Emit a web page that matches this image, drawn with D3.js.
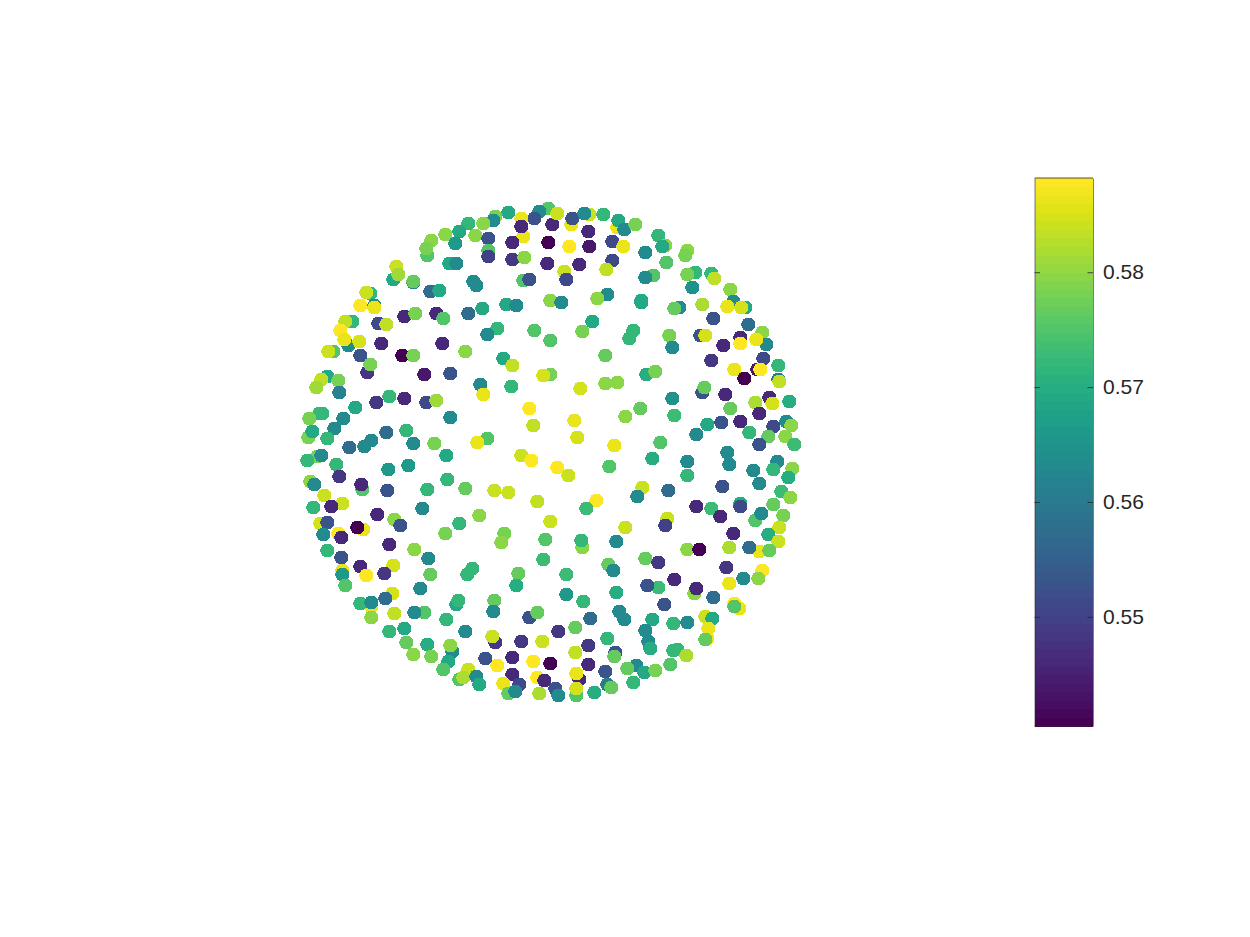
<!DOCTYPE html>
<html>
<head>
<meta charset="utf-8">
<script src="https://cdnjs.cloudflare.com/ajax/libs/d3/7.8.5/d3.min.js"></script>
<style>
html,body{margin:0;padding:0;background:#fff;}
svg{display:block;}
</style>
</head>
<body>
<svg id="chart" width="1250" height="937"></svg>
<script>
const colorMin = 0.5405, colorMax = 0.5882, colorLevels = 64;
const colorTicks = [0.55, 0.56, 0.57, 0.58];

const xA = [
-2,-11,-16,-29,-27,-29,-42,-55,-57,-67,
-82,-91,-105,-75,-62,-38,-2,2,-95,-119,
-123,-124,-62,-62,-38,-26,-3,-101,-94,-154,
-157,-152,-27,-21,-137,-137,-77,-74,-120,-111,
-180,-184,0,-176,-190,-176,-44,-34,-68,-82,
-146,-135,-114,-107,-198,-205,-172,-164,-53,-63,
-16,-202,-210,-206,-191,-169,-108,0,-217,-222,
-85,-190,-148,-137,-47,-38,-183,-180,-126,-100,
0,-7,-223,-229,-212,-70,-39,-234,-211,-67,
-161,-146,-174,-124,-114,-195,-21,-231,-228,-241,
-207,-100,-17,-216,-144,-164,-242,-238,-223,-179,
-63,-73,-137,-116,-201,-186];
const yA = [
245,242,235,235,217,227,241,237,233,230,
230,222,219,218,215,211,211,229,210,213,
198,205,203,197,194,196,190,190,190,187,
174,179,173,174,171,172,172,168,162,163,
160,161,153,148,148,146,149,148,145,140,
137,140,140,135,132,132,130,129,125,119,
123,108,123,114,112,110,110,113,102,102,
102,98,98,98,95,88,81,89,79,80,
79,78,77,74,73,69,67,66,61,59,
57,55,51,51,53,46,45,40,40,35,
35,36,28,25,23,21,16,22,15,13,
15,11,10,10,6,7];
const vA = [
.575,.563,.553,.586,.586,.546,.569,.578,.563,.58,
.572,.569,.58,.58,.553,.546,.5405,.546,.566,.58,
.575,.578,.575,.55,.548,.58,.546,.569,.563,.584,
.569,.581,.575,.553,.562,.577,.563,.563,.557,.569,
.572,.584,.58,.563,.588,.586,.569,.563,.569,.557,
.546,.578,.546,.575,.572,.583,.551,.583,.572,.563,
.575,.563,.588,.586,.585,.546,.546,.575,.575,.584,
.58,.553,.5405,.578,.569,.583,.548,.578,.544,.553,
.578,.585,.569,.583,.578,.563,.572,.581,.562,.586,
.572,.546,.548,.551,.581,.569,.588,.572,.572,.578,
.563,.563,.583,.563,.572,.557,.578,.569,.572,.563,
.575,.586,.563,.578,.557,.563];

const xB = [
7,21,22,39,34,53,38,67,68,74,
85,108,19,39,62,73,95,115,112,137,
135,116,29,62,56,14,16,103,95,145,
137,161,164,142,180,57,47,11,91,91,
129,124,152,183,195,177,191,163,42,198,
32,83,79,150,155,119,122,212,216,190,
190,206,173,55,213,161,228,207,210,184,
96,105,194,228,229,55,67,30,152,154,
175,122,219,222,205,239,209,180,90,75,
124,24,157,171,190,236,223,241,146,199,
218,235,27,209,244,110,64];
const yB = [
240,229,235,239,240,239,222,226,233,224,
229,218,207,207,212,207,201,208,207,203,
198,191,189,193,184,182,174,178,176,181,
179,180,175,166,164,159,155,151,153,151,
146,145,149,152,146,147,146,135,132,129,
122,123,115,118,118,118,106,121,109,116,
110,114,108,98,95,93,88,84,84,84,
79,82,75,74,72,70,71,65,61,66,
59,55,56,50,51,52,40,45,45,37,
38,33,29,31,32,32,27,28,19,21,
17,17,16,9,9,11,8];
const vB = [
.584,.586,.553,.584,.563,.572,.546,.586,.569,.563,
.578,.572,.588,.544,.551,.586,.563,.58,.569,.58,
.578,.575,.546,.551,.583,.584,.551,.575,.563,.572,
.578,.572,.583,.565,.58,.563,.58,.563,.569,.569,
.563,.577,.582,.563,.569,.586,.585,.553,.569,.557,
.578,.572,.572,.553,.585,.578,.563,.58,.563,.546,
.588,.586,.546,.577,.551,.548,.572,.544,.588,.586,
.57,.578,.5405,.56,.583,.58,.58,.585,.553,.577,
.546,.565,.546,.585,.582,.57,.546,.577,.577,.58,
.573,.586,.569,.553,.546,.563,.551,.58,.563,.572,
.577,.58,.585,.553,.573,.575,.586];

const xC = [
-233,-243,-229,-214,-104,-29,-19,-162,-142,-211,
-240,-236,-103,-188,-189,-163,-123,-85,-56,-42,
-226,-13,-208,-237,-219,-128,-173,-71,-156,-150,
-230,-223,-91,0,-187,-193,-212,-227,-209,-105,
-46,-49,-5,-161,-223,-136,-122,-7,-209,-208,
-208,-157,-190,-184,-166,-120,-78,-83,-32,-34,
-205,-158,-130,-94,-92,-179,-190,-179,-165,-56,
-57,-21,-13,-156,-126,-136,-179,-104,-85,-161,
-146,-55,-58,-29,-8,-144,-123,-98,-100,-137,
-119,-102,-107,-65,-38,-53,-17,0,-82,-91,
-87,-74,-71,-38,-13,-6,-47,-31,-42,-35,-11];
const yC = [
-3,-7,-2,-11,-2,-2,-7,-16,-12,-23,
-28,-31,-26,-36,-31,-37,-36,-35,-37,-39,
-42,-48,-50,-54,-53,-55,-61,-62,-66,-72,
-70,-69,-70,-68,-76,-74,-80,-81,-84,-80,
-80,-89,-86,-91,-97,-96,-105,-106,-104,-117,
-121,-112,-113,-122,-120,-121,-115,-121,-120,-132,
-132,-140,-135,-151,-147,-153,-150,-149,-145,-147,
-158,-164,-159,-160,-159,-159,-164,-166,-178,-178,
-175,-189,-183,-188,-188,-189,-191,-198,-192,-201,
-203,-208,-216,-205,-204,-212,-208,-210,-216,-226,
-224,-223,-231,-221,-224,-227,-230,-231,-240,-238,-240];
const vC = [
.578,.572,.563,.572,.569,.584,.588,.566,.566,.548,
.58,.563,.572,.575,.546,.553,.572,.577,.584,.584,
.584,.583,.584,.572,.546,.563,.546,.58,.58,.553,
.585,.553,.572,.584,.586,.5405,.588,.563,.546,.578,
.578,.58,.575,.546,.572,.58,.563,.573,.553,.586,
.566,.585,.546,.588,.548,.577,.572,.572,.577,.57,
.575,.585,.563,.569,.572,.586,.572,.563,.557,.577,
.563,.553,.577,.583,.575,.563,.58,.572,.563,.572,
.569,.548,.584,.548,.584,.577,.57,.563,.58,.58,
.578,.569,.575,.553,.546,.588,.588,.5405,.584,.575,
.582,.563,.569,.546,.588,.546,.586,.551,.577,.563,.582];

const xD = [
102,137,177,179,227,223,242,203,238,209,
137,59,7,18,172,92,87,118,231,240,
46,36,146,161,190,190,223,170,205,211,
233,117,115,75,229,183,218,228,32,31,
66,209,199,219,179,137,149,95,108,58,
63,176,212,208,16,124,193,179,108,97,
66,16,144,146,163,33,114,184,189,184,
69,74,40,155,162,102,123,137,25,8,
158,95,57,157,155,98,100,127,123,136,
38,65,64,25,38,86,77,94,105,120,
83,55,29,26,5,26,26,8,44,57,61];
const yD = [
-5,-8,1,-11,-8,-16,-15,-17,-24,-30,
-22,-13,-14,-22,-33,-34,-43,-37,-38,-44,
-47,-55,-53,-55,-50,-53,-51,-63,-67,-60,
-62,-65,-72,-74,-74,-80,-81,-88,-94,-87,
-88,-98,-94,-97,-94,-96,-96,-105,-109,-111,
-117,-114,-117,-125,-121,-126,-125,-130,-134,-132,
-139,-141,-140,-135,-144,-148,-151,-150,-155,-153,
-158,-166,-165,-163,-165,-166,-170,-169,-174,-178,
-175,-177,-185,-185,-186,-188,-195,-196,-197,-202,
-192,-199,-203,-199,-211,-212,-215,-219,-217,-211,
-229,-218,-226,-220,-235,-242,-235,-242,-239,-231,-234];
const vD = [
.57,.563,.563,.563,.563,.572,.58,.563,.57,.563,
.572,.575,.588,.584,.553,.584,.563,.557,.573,.58,
.588,.573,.546,.573,.57,.551,.577,.546,.575,.563,
.578,.584,.55,.584,.584,.546,.57,.584,.58,.572,
.563,.586,.557,.577,.582,.58,.5405,.577,.548,.577,
.563,.548,.588,.58,.573,.546,.563,.586,.573,.553,
.57,.566,.58,.546,.557,.572,.553,.588,.586,.575,
.563,.563,.557,.584,.569,.569,.572,.563,.577,.548,
.586,.563,.572,.586,.577,.563,.57,.572,.572,.582,
.548,.553,.577,.583,.546,.563,.577,.569,.578,.575,
.572,.553,.546,.586,.553,.575,.585,.563,.57,.56,.577];

const xs = [...xA, ...xB, ...xC, ...xD];
const ys = [...yA, ...yB, ...yC, ...yD];
const vs = [...vA, ...vB, ...vC, ...vD];

const svg = d3.select("#chart");
const x = d3.scaleLinear().domain([-250, 250]).range([300.3, 800.3]);
const y = d3.scaleLinear().domain([-250, 250]).range([703.5, 203.5]);
const palette = d3.quantize(d3.interpolateViridis, colorLevels);
const color = d3.scaleQuantize().domain([colorMin, colorMax]).range(palette);

svg.append("g").selectAll("circle")
  .data(d3.range(Math.min(xs.length, ys.length, vs.length)))
  .join("circle")
  .attr("cx", i => x(xs[i]))
  .attr("cy", i => y(ys[i]))
  .attr("r", 7)
  .attr("fill", i => color(vs[i]))
  .attr("shape-rendering", "crispEdges");

// colour bar
const barLeft = 1034.5, barRight = 1093, barTop = 178, barBottom = 726;
const barScale = d3.scaleLinear().domain([colorMin, colorMax]).range([barBottom, barTop]);
const cbar = svg.append("g");
cbar.selectAll("rect.level")
  .data(palette)
  .join("rect")
  .attr("class", "level")
  .attr("x", barLeft)
  .attr("width", barRight - barLeft)
  .attr("y", (d, i) => barScale(colorMin + (i + 1) * (colorMax - colorMin) / colorLevels))
  .attr("height", (barBottom - barTop) / colorLevels + 0.5)
  .attr("fill", d => d)
  .attr("shape-rendering", "crispEdges");

const inkColor = "#262626";
function styleAxis(g) {
  g.selectAll("path").attr("stroke", inkColor).attr("stroke-width", 0.6);
  g.selectAll("line").attr("stroke", inkColor).attr("stroke-width", 0.8);
  g.selectAll("text").attr("fill", inkColor)
    .style("font-family", '"Liberation Sans", Arial, sans-serif')
    .style("font-size", "21px");
}
cbar.append("g").attr("transform", `translate(${barLeft},0)`)
  .call(d3.axisRight(barScale).tickValues(colorTicks).tickSizeInner(5.5).tickSizeOuter(0).tickFormat(""))
  .call(styleAxis);
cbar.append("g").attr("transform", `translate(${barRight},0)`)
  .call(d3.axisLeft(barScale).tickValues(colorTicks).tickSizeInner(5.5).tickSizeOuter(0).tickFormat(""))
  .call(styleAxis);
cbar.append("g").attr("transform", `translate(${barRight},0)`)
  .call(d3.axisRight(barScale).tickValues(colorTicks).tickSize(0).tickPadding(10).tickFormat(d3.format(".2f")))
  .call(g => g.select("path").remove())
  .call(styleAxis);
cbar.append("line").attr("x1", barLeft).attr("x2", barRight).attr("y1", barTop).attr("y2", barTop)
  .attr("stroke", inkColor).attr("stroke-width", 0.8);
cbar.append("line").attr("x1", barLeft).attr("x2", barRight).attr("y1", barBottom).attr("y2", barBottom)
  .attr("stroke", inkColor).attr("stroke-width", 0.8);
</script>
</body>
</html>
